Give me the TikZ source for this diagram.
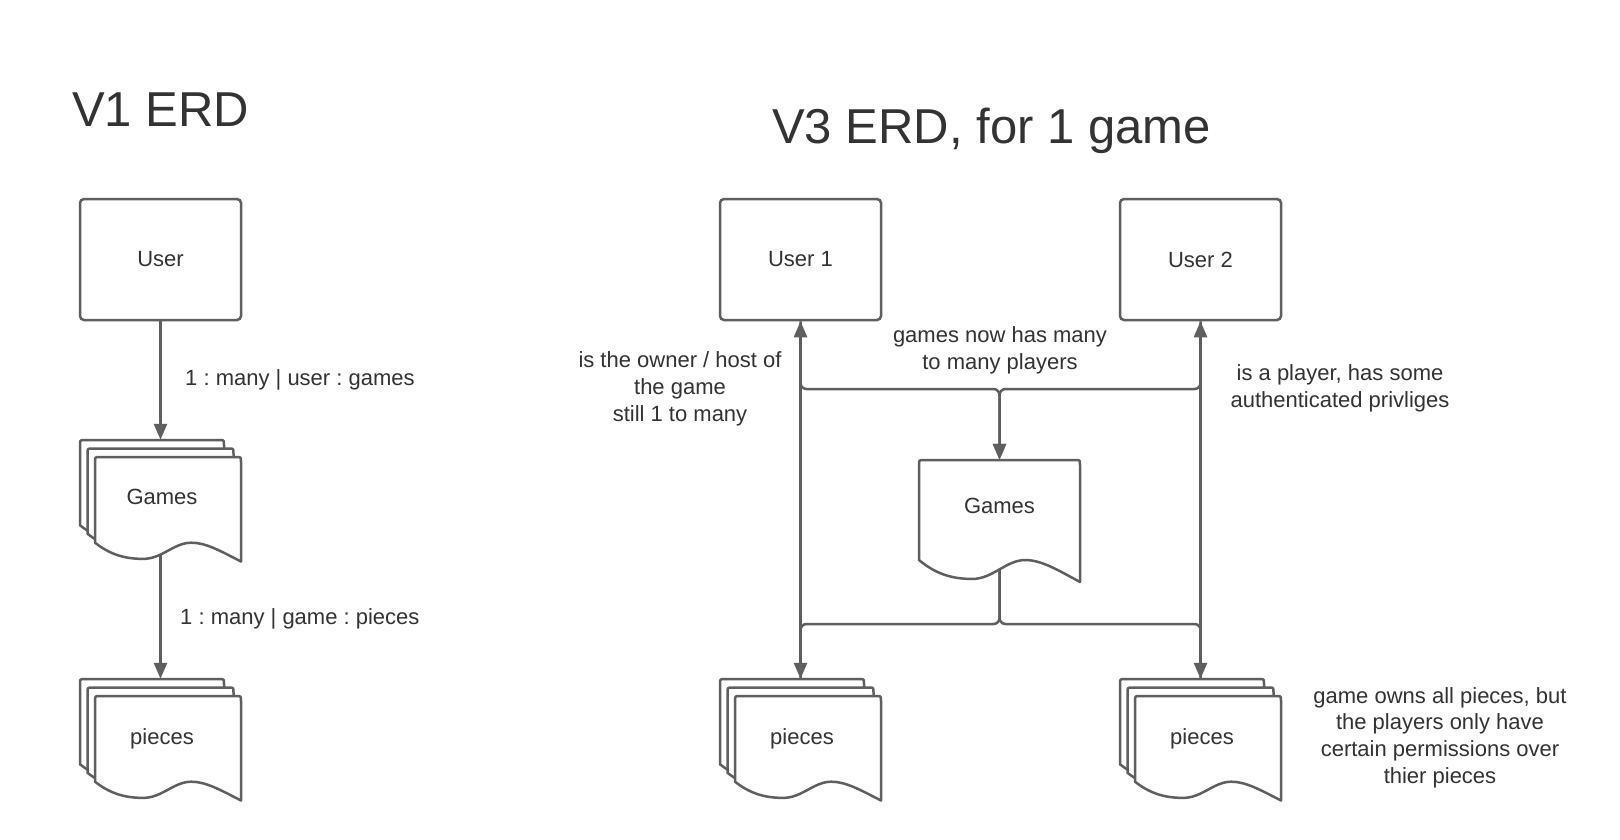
\documentclass[tikz,border=0pt]{standalone}
\usepackage{fontspec}
\setmainfont{Liberation Sans}
\frenchspacing
\usetikzlibrary{arrows.meta,backgrounds}

\definecolor{erdline}{HTML}{5F5F5F}
\definecolor{erdtext}{HTML}{333333}

% one document sheet: left x, top y, width, height
\newcommand\docsheet[4]{%
  \draw[sheet] (#1+#3,#2+#4)
    .. controls (#1+0.86*#3,#2+0.9*#4) and (#1+0.76*#3,#2+0.82*#4) .. (#1+0.66*#3,#2+0.82*#4)
    .. controls (#1+0.54*#3,#2+0.82*#4) and (#1+0.46*#3,#2+0.975*#4) .. (#1+0.33*#3,#2+0.975*#4)
    .. controls (#1+0.2*#3,#2+0.975*#4) and (#1+0.1*#3,#2+0.93*#4) .. (#1,#2+0.82*#4)
    -- (#1,#2+5) .. controls (#1,#2) .. (#1+5,#2)
    -- (#1+#3-5,#2) .. controls (#1+#3,#2) .. (#1+#3,#2+5)
    -- cycle;}
% a pile of three sheets
\newcommand\docpile[2]{%
  \docsheet{#1}{#2}{144}{104}
  \docsheet{#1+7.5}{#2+8.5}{146}{104}
  \docsheet{#1+15}{#2+17}{146}{104.5}}

\begin{document}
\begin{tikzpicture}[x=1pt,y=-1pt,
  every node/.style={text=erdtext,inner sep=0pt,font=\fontsize{22}{26.7}\selectfont},
  entity/.style={draw=erdline,line width=2.5pt,rounded corners=4pt,minimum width=161pt,minimum height=121pt},
  docbox/.style={minimum width=161pt,minimum height=#1},
  sheet/.style={draw=erdline,line width=2.5pt,fill=white,line join=round},
  link/.style={draw=erdline,line width=2.5pt,rounded corners=6pt},
  title/.style={anchor=base west,font=\fontsize{49}{59}\selectfont},
  >={Triangle[length=16pt,width=13pt]}]
\begin{scope}[on background layer]
  \fill[white] (0,0) rectangle (1620,840);
\end{scope}
\useasboundingbox (0,0) rectangle (1620,840);

% V1
\node[title] (v1title) at (72,127) {V1 ERD};
\node[entity] (user) at (160.5,259.5) {User};
\docpile{80}{440}
\node[docbox=114pt] (games) at (160.5,497) {\hspace*{3pt}Games};
\docpile{80}{679}
\node[docbox=120pt] (pieces) at (160.5,739) {\hspace*{3pt}pieces};

\draw[link,->] (user) -- (games);
\begin{scope}[on background layer]
  \draw[link,->] (games.center) -- (pieces.north);
\end{scope}
\node[anchor=base west] (userlabel) at (185,385) {1 : many | user : games};
\node[anchor=base west] (gamelabel) at (180,624) {1 : many | game : pieces};

% V3
\node[title] (v3title) at (772,144) {V3 ERD, for 1 game};
\node[entity] (user1) at (800.5,259.5) {User 1};
\node[entity] (user2) at (1200.5,259.5) {User 2};
\docsheet{919}{460}{161}{122}
\node[docbox=92pt] (games3) at (999.5,506) {Games};
\docpile{720}{679}
\node[docbox=120pt] (pieces1) at (800.5,739) {\hspace*{3pt}pieces};
\docpile{1120}{679}
\node[docbox=120pt] (pieces2) at (1200.5,739) {\hspace*{3pt}pieces};

\coordinate (upper) at (0,389);
\coordinate (lower) at (0,624);
\draw[link,<->] (user1) -- (pieces1);
\draw[link,<->] (user2) -- (pieces2);
\draw[link,->] (user1.south) |- (games3.north |- upper) -- (games3.north);
\draw[link,->] (user2.south) |- (games3.north |- upper) -- (games3.north);
\begin{scope}[on background layer]
  \draw[link] (games3.center) |- (pieces1.north |- lower) -- (pieces1.north);
  \draw[link] (games3.center) |- (pieces2.north |- lower) -- (pieces2.north);
\end{scope}

\node[align=center] (ownernote) at (680,389) {is the owner / host of\\the game\\still 1 to many};
\node[align=center] (gamesnote) at (1000,350) {games now has many\\to many players};
\node[align=center] (playernote) at (1340,388) {is a player, has some\\authenticated privliges};
\node[align=center] (piecesnote) at (1440,737.5) {game owns all pieces, but\\the players only have\\certain permissions over\\thier pieces};
\end{tikzpicture}
\end{document}
